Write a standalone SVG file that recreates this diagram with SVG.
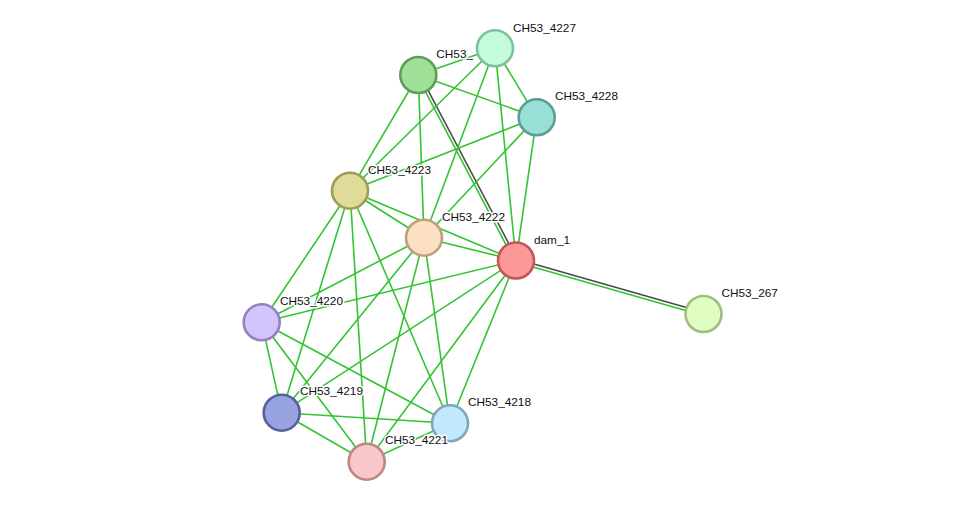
<svg xmlns="http://www.w3.org/2000/svg" width="975" height="507" viewBox="0 0 975 507">
<style>
.e{stroke:#33c433;stroke-width:1.6;fill:none}
.k{stroke:#4a4a4a;stroke-width:1.6;fill:none}
.n{stroke-width:2.6}
.l{font-family:"Liberation Sans",Arial,sans-serif;font-size:11.8px;fill:#111;stroke:#fff;stroke-width:3px;stroke-linejoin:round;paint-order:stroke}
</style>
<rect width="975" height="507" fill="#fff"/>
<g id="edges">
<line class="e" x1="418.3" y1="75" x2="495" y2="48.3"/>
<line class="e" x1="418.3" y1="75" x2="536.7" y2="117.3"/>
<line class="e" x1="418.3" y1="75" x2="350" y2="190.7"/>
<line class="e" x1="418.3" y1="75" x2="424" y2="237.7"/>
<line class="e" x1="416.97" y1="75.7" x2="514.67" y2="261.2"/>
<line class="k" x1="419.63" y1="74.3" x2="517.33" y2="259.8"/>
<line class="e" x1="495" y1="48.3" x2="536.7" y2="117.3"/>
<line class="e" x1="495" y1="48.3" x2="350" y2="190.7"/>
<line class="e" x1="495" y1="48.3" x2="424" y2="237.7"/>
<line class="e" x1="495" y1="48.3" x2="516" y2="260.5"/>
<line class="e" x1="536.7" y1="117.3" x2="350" y2="190.7"/>
<line class="e" x1="536.7" y1="117.3" x2="424" y2="237.7"/>
<line class="e" x1="536.7" y1="117.3" x2="516" y2="260.5"/>
<line class="e" x1="350" y1="190.7" x2="424" y2="237.7"/>
<line class="e" x1="350" y1="190.7" x2="516" y2="260.5"/>
<line class="e" x1="350" y1="190.7" x2="261.7" y2="322.3"/>
<line class="e" x1="350" y1="190.7" x2="281.7" y2="412.7"/>
<line class="e" x1="350" y1="190.7" x2="450" y2="423.3"/>
<line class="e" x1="350" y1="190.7" x2="366.7" y2="461.7"/>
<line class="e" x1="424" y1="237.7" x2="516" y2="260.5"/>
<line class="e" x1="424" y1="237.7" x2="261.7" y2="322.3"/>
<line class="e" x1="424" y1="237.7" x2="281.7" y2="412.7"/>
<line class="e" x1="424" y1="237.7" x2="450" y2="423.3"/>
<line class="e" x1="424" y1="237.7" x2="366.7" y2="461.7"/>
<line class="e" x1="515.59" y1="261.94" x2="703.09" y2="315.44"/>
<line class="k" x1="516.41" y1="259.06" x2="703.91" y2="312.56"/>
<line class="e" x1="516" y1="260.5" x2="261.7" y2="322.3"/>
<line class="e" x1="516" y1="260.5" x2="281.7" y2="412.7"/>
<line class="e" x1="516" y1="260.5" x2="450" y2="423.3"/>
<line class="e" x1="516" y1="260.5" x2="366.7" y2="461.7"/>
<line class="e" x1="261.7" y1="322.3" x2="281.7" y2="412.7"/>
<line class="e" x1="261.7" y1="322.3" x2="450" y2="423.3"/>
<line class="e" x1="261.7" y1="322.3" x2="366.7" y2="461.7"/>
<line class="e" x1="281.7" y1="412.7" x2="450" y2="423.3"/>
<line class="e" x1="281.7" y1="412.7" x2="366.7" y2="461.7"/>
<line class="e" x1="450" y1="423.3" x2="366.7" y2="461.7"/>
</g>
<g id="n4226"><circle class="n" cx="418.3" cy="75" r="18" fill="#a0df98" stroke="#5f9e58"/><text class="l" x="436.3" y="58">CH53_</text></g>
<g id="n4227"><circle class="n" cx="495" cy="48.3" r="18" fill="#c2fcd8" stroke="#80c09c"/><text class="l" x="513" y="32">CH53_4227</text></g>
<g id="n4228"><circle class="n" cx="536.7" cy="117.3" r="18" fill="#98e0d6" stroke="#5a9c96"/><text class="l" x="555" y="100">CH53_4228</text></g>
<g id="n4223"><circle class="n" cx="350" cy="190.7" r="18" fill="#dedc98" stroke="#9e9c58"/><text class="l" x="368" y="173.5">CH53_4223</text></g>
<g id="n4222"><circle class="n" cx="424" cy="237.7" r="18" fill="#fde0c2" stroke="#bea080"/><text class="l" x="442" y="220.5">CH53_4222</text></g>
<g id="dam_1"><circle class="n" cx="516" cy="260.5" r="18" fill="#fd9898" stroke="#c05858"/><text class="l" x="534" y="243.5">dam_1</text></g>
<g id="n267"><circle class="n" cx="703.5" cy="314" r="18" fill="#e0fec2" stroke="#a0be80"/><text class="l" x="721.5" y="297">CH53_267</text></g>
<g id="n4220"><circle class="n" cx="261.7" cy="322.3" r="18" fill="#d4c4fc" stroke="#9580c0"/><text class="l" x="280" y="305.3">CH53_4220</text></g>
<g id="n4219"><circle class="n" cx="281.7" cy="412.7" r="18" fill="#98a4e0" stroke="#56629e"/><text class="l" x="300" y="395">CH53_4219</text></g>
<g id="n4218"><circle class="n" cx="450" cy="423.3" r="18" fill="#c2e8fc" stroke="#80a6be"/><text class="l" x="468" y="406">CH53_4218</text></g>
<g id="n4221"><circle class="n" cx="366.7" cy="461.7" r="18" fill="#f8c8c8" stroke="#bc8684"/><text class="l" x="385" y="444">CH53_4221</text></g>
</svg>
